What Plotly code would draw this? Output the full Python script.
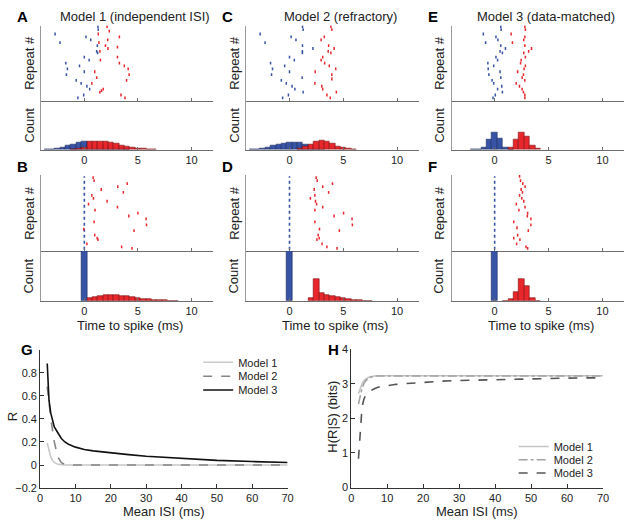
import plotly.graph_objects as go

# ---------------- data ----------------
# Raster spikes: time to spike (ms) and repeat index
A_blue_t = [1.27, 1.3, -2.73, 0.15, 0.6, -2.27, 1.21, 1.15, 1.24, 0.0, 0.45, -1.73, -0.45, -1.58, 0.0, -1.67, -0.76, -0.3, 0.24, 0.5, -0.06, -0.6]
A_blue_r = [50, 48, 45, 43, 41, 39, 37, 33, 32, 29, 27, 25, 23, 21, 19, 17, 13, 11, 9, 7, 3, 1]
A_red_t = [2.12, 2.33, 1.3, 3.27, 2.18, 1.36, 1.97, 2.2, 3.09, 1.45, 3.09, 1.5, 3.27, 3.73, 4.09, 0.97, 4.18, 1.15, 3.94, 0.7, 1.76, 1.6, 1.45, 3.42, 3.79]
A_red_r = [50, 47, 45, 43, 41, 39, 37, 35, 36, 33, 29, 27, 25, 23, 21, 19, 17, 15, 13, 11, 7, 6, 5, 3, 1]

C_blue_t = [1.21, 1.27, -2.73, 0.15, 0.6, -2.27, 1.21, 2.18, 1.2, 1.2, 0.0, 0.45, -1.76, -0.45, -1.58, 0.0, -1.67, 1.18, -0.76, -0.3, 0.24, 0.5, 1.27, -0.1, -0.64]
C_blue_r = [50, 48, 45, 43, 41, 39, 37, 35, 33, 32, 29, 27, 25, 23, 21, 19, 17, 15, 13, 11, 9, 7, 5, 3, 1]
C_red_t = [3.85, 3.94, 3.24, 2.94, 3.64, 4.15, 3.6, 3.85, 3.09, 2.94, 3.27, 3.7, 4.3, 2.39, 3.94, 3.94, 2.36, 3.0, 3.09, 4.36, 3.48, 3.79]
C_red_r = [50, 48, 43, 41, 37, 35, 33, 32, 29, 27, 25, 23, 21, 19, 17, 14, 11, 9, 7, 5, 3, 1]

E_blue_t = [0.57, 0.6, -1.05, 0.12, 0.3, -0.84, 0.57, 1.0, 0.5, 0.72, 0.12, 0.27, -0.63, -0.09, -0.6, 0.5, -0.54, 0.57, -0.24, -0.09, 0.66, 0.27, 0.72, 0.06, -0.15]
E_blue_r = [50, 48, 45, 43, 41, 39, 37, 35, 33, 32, 29, 27, 25, 23, 21, 19, 17, 15, 13, 11, 9, 7, 5, 3, 1]
E_red_t = [2.8, 2.85, 1.53, 2.8, 2.7, 1.65, 2.8, 3.42, 3.15, 2.7, 2.85, 2.46, 2.4, 2.85, 2.73, 2.13, 2.67, 2.55, 2.8, 2.0, 2.3, 2.55, 2.67, 2.8, 2.8]
E_red_r = [50, 48, 45, 43, 41, 39, 37, 35, 33, 32, 29, 27, 25, 23, 21, 19, 17, 15, 13, 11, 9, 7, 5, 3, 1]

# bottom row: the blue neuron always spikes at time 0 on every repeat
ALL_REPEATS = list(range(0, 51))
REF_blue_t = [0.0] * len(ALL_REPEATS)

B_red_t = [0.82, 0.91, 4.0, 3.12, 1.58, 3.64, 0.7, 0.85, 2.12, 0.39, 3.09, 1.0, 5.0, 4.15, 5.76, 0.91, 5.8, -0.06, 4.64, 0.97, 1.2, 1.27, 0.24, 3.48, 4.45]
B_red_r = [49, 47, 45, 43, 41, 39, 37, 35, 33, 31, 29, 27, 25, 23, 21, 19, 17, 14, 13, 10, 8, 7, 4, 2, 1]
D_red_t = [2.48, 2.58, 4.0, 3.09, 2.3, 3.64, 2.36, 1.94, 2.42, 2.52, 3.09, 2.36, 5.03, 4.15, 5.82, 2.36, 5.85, 2.79, 4.64, 2.67, 2.76, 2.55, 3.03, 3.48, 4.42]
D_red_r = [49, 47, 45, 43, 41, 39, 37, 35, 33, 31, 29, 27, 25, 23, 21, 19, 17, 14, 13, 10, 8, 7, 4, 2, 1]
F_red_t = [2.31, 2.4, 2.61, 2.82, 2.46, 2.58, 2.31, 2.52, 2.7, 2.01, 2.82, 2.25, 3.06, 3.03, 3.36, 1.77, 3.36, 2.07, 3.12, 2.13, 1.77, 2.34, 2.04, 2.91, 3.06]
F_red_r = [50, 47, 45, 43, 41, 39, 37, 35, 33, 31, 29, 27, 25, 23, 21, 19, 17, 15, 13, 10, 8, 7, 4, 2, 1]

# Histograms: bin centres (ms) and normalised counts
A_hb_t = [-3.5, -3.0, -2.5, -2.0, -1.5, -1.0, -0.5, 0.0, 0.5, 1.0, 1.5, 2.0, 2.5, 3.0, 3.5, 4.0]
A_hb_c = [0.005, 0.012, 0.025, 0.05, 0.075, 0.1, 0.14, 0.16, 0.155, 0.14, 0.11, 0.08, 0.05, 0.03, 0.015, 0.006]
A_hr_t = [-1.0, -0.5, 0.0, 0.5, 1.0, 1.5, 2.0, 2.5, 3.0, 3.5, 4.0, 4.5, 5.0, 5.5, 6.0, 6.5]
A_hr_c = [0.005, 0.02, 0.05, 0.16, 0.165, 0.165, 0.16, 0.14, 0.12, 0.09, 0.07, 0.05, 0.03, 0.015, 0.006, 0.002]

C_hb_t = [-3.5, -3.0, -2.5, -2.0, -1.5, -1.0, -0.5, 0.0, 0.5, 1.0, 1.5, 2.0, 2.5, 3.0]
C_hb_c = [0.004, 0.01, 0.025, 0.045, 0.075, 0.1, 0.135, 0.15, 0.155, 0.14, 0.11, 0.075, 0.04, 0.015]
C_hr_t = [1.0, 1.5, 2.0, 2.5, 3.0, 3.5, 4.0, 4.5, 5.0, 5.5, 6.0]
C_hr_c = [0.03, 0.07, 0.11, 0.16, 0.19, 0.17, 0.12, 0.07, 0.04, 0.018, 0.006]

E_hb_t = [-2.0, -1.5, -1.0, -0.5, 0.0, 0.5, 1.0, 1.5]
E_hb_c = [0.004, 0.013, 0.047, 0.21, 0.35, 0.23, 0.053, 0.005]
E_hr_t = [1.5, 2.0, 2.5, 3.0, 3.5, 4.0]
E_hr_c = [0.053, 0.21, 0.35, 0.27, 0.087, 0.02]

REF_hb_t = [0.0]
REF_hb_c = [1.0]
B_hr_t = [0.5, 1.0, 1.5, 2.0, 2.5, 3.0, 3.5, 4.0, 4.5, 5.0, 5.5, 6.0, 6.5, 7.0, 7.5, 8.0, 8.5]
B_hr_c = [0.065, 0.085, 0.1, 0.11, 0.113, 0.11, 0.1, 0.09, 0.075, 0.06, 0.045, 0.033, 0.022, 0.014, 0.008, 0.004, 0.002]
D_hr_t = [2.0, 2.5, 3.0, 3.5, 4.0, 4.5, 5.0, 5.5, 6.0, 6.5, 7.0, 7.5]
D_hr_c = [0.053, 0.43, 0.153, 0.113, 0.1, 0.08, 0.053, 0.04, 0.027, 0.013, 0.006, 0.003]
F_hr_t = [1.0, 1.5, 2.0, 2.5, 3.0, 3.5, 4.0]
F_hr_c = [0.005, 0.033, 0.18, 0.43, 0.3, 0.053, 0.005]

# Panels G and H
mean_isi = [2, 2.5, 3, 3.5, 4, 5, 6, 7, 8, 10, 12.5, 15, 20, 25, 30, 40, 50, 60, 70]
R_model1 = [0.19, 0.12, 0.07, 0.04, 0.022, 0.006, 0.001, 0, 0, 0, 0, 0, 0, 0, 0, 0, 0, 0, 0]
R_model2 = [0.68, 0.52, 0.41, 0.3, 0.2, 0.07, 0.02, 0.005, 0, 0, 0, 0, 0, 0, 0, 0, 0, 0, 0]
R_model3 = [0.88, 0.56, 0.45, 0.38, 0.33, 0.28, 0.23, 0.2, 0.18, 0.155, 0.135, 0.123, 0.104, 0.09, 0.076, 0.056, 0.04, 0.03, 0.022]
H_model1 = [2.71, 2.88, 3.0, 3.08, 3.13, 3.19, 3.22, 3.23, 3.23, 3.23, 3.23, 3.23, 3.23, 3.23, 3.23, 3.23, 3.23, 3.23, 3.23]
H_model2 = [2.41, 2.68, 2.87, 3.0, 3.08, 3.17, 3.21, 3.22, 3.22, 3.22, 3.22, 3.22, 3.22, 3.22, 3.22, 3.22, 3.22, 3.22, 3.22]
H_model3 = [0.83, 1.77, 2.33, 2.55, 2.66, 2.78, 2.84, 2.88, 2.91, 2.95, 2.98, 3.0, 3.04, 3.07, 3.09, 3.12, 3.14, 3.16, 3.17]

# ---------------- figure ----------------
W, HGT = 633, 528
FONT = "Liberation Sans, Arial, Helvetica, sans-serif"
BLUE, BLUE_EDGE = "#3753a6", "#1b2a5c"
RED, RED_EDGE = "#e8262b", "#7a1214"


def dx(a, b):
    return [a / W, b / W]


def dy(top, bot):
    return [1 - bot / HGT, 1 - top / HGT]


fig = go.Figure()
layout = dict(
    width=W, height=HGT, margin=dict(l=0, r=0, t=0, b=0),
    paper_bgcolor="white", plot_bgcolor="white",
    font=dict(family=FONT, size=11, color="#222"),
    showlegend=True, barmode="overlay", bargap=0,
)
annotations = []

cols = [(39, 213), (247, 421.5), (455, 630)]
rows = [(20, 96.7, 147), (173, 250.7, 301.7)]

panels = [
    dict(L="A", col=0, row=0, title="Model 1 (independent ISI)",
         bt=A_blue_t, br=A_blue_r, rt=A_red_t, rr=A_red_r, hbt=A_hb_t, hbc=A_hb_c, hrt=A_hr_t, hrc=A_hr_c, line=False),
    dict(L="C", col=1, row=0, title="Model 2 (refractory)",
         bt=C_blue_t, br=C_blue_r, rt=C_red_t, rr=C_red_r, hbt=C_hb_t, hbc=C_hb_c, hrt=C_hr_t, hrc=C_hr_c, line=False),
    dict(L="E", col=2, row=0, title="Model 3 (data-matched)",
         bt=E_blue_t, br=E_blue_r, rt=E_red_t, rr=E_red_r, hbt=E_hb_t, hbc=E_hb_c, hrt=E_hr_t, hrc=E_hr_c, line=False),
    dict(L="B", col=0, row=1, title=None,
         bt=REF_blue_t, br=ALL_REPEATS, rt=B_red_t, rr=B_red_r, hbt=REF_hb_t, hbc=REF_hb_c, hrt=B_hr_t, hrc=B_hr_c, line=True),
    dict(L="D", col=1, row=1, title=None,
         bt=REF_blue_t, br=ALL_REPEATS, rt=D_red_t, rr=D_red_r, hbt=REF_hb_t, hbc=REF_hb_c, hrt=D_hr_t, hrc=D_hr_c, line=True),
    dict(L="F", col=2, row=1, title=None,
         bt=REF_blue_t, br=ALL_REPEATS, rt=F_red_t, rr=F_red_r, hbt=REF_hb_t, hbc=REF_hb_c, hrt=F_hr_t, hrc=F_hr_c, line=True),
]

k = 1
for p in panels:
    x0, x1 = cols[p["col"]]
    ytop, ymid, ybot = rows[p["row"]]
    ka, kb = k, k + 1
    k += 2
    xa, ya = f"x{ka}", f"y{ka}"
    xb, yb = f"x{kb}", f"y{kb}"
    # raster axes
    layout[f"xaxis{ka}"] = dict(domain=dx(x0, x1), anchor=ya, range=[-4, 12], showline=True,
                                linecolor="#6e6e6e", linewidth=1, ticks="inside", ticklen=3,
                                tickcolor="#6e6e6e", tickvals=[0, 5, 10], showticklabels=False,
                                showgrid=False, zeroline=False)
    layout[f"yaxis{ka}"] = dict(domain=dy(ytop, ymid), anchor=xa, range=[-0.8, 50.8], showline=True,
                                linecolor="#9a9a9a", linewidth=1, ticks="", showticklabels=False,
                                showgrid=False, zeroline=False)
    # histogram axes
    layout[f"xaxis{kb}"] = dict(domain=dx(x0, x1), anchor=yb, range=[-4, 12], showline=True,
                                linecolor="#6e6e6e", linewidth=1, ticks="inside", ticklen=3,
                                tickcolor="#6e6e6e", tickvals=[0, 5, 10], ticktext=["0", "5", "10"],
                                tickfont=dict(size=11, color="#222"),
                                showgrid=False, zeroline=False)
    layout[f"yaxis{kb}"] = dict(domain=dy(ymid, ybot), anchor=xb, range=[0, 1.0], showline=True,
                                linecolor="#9a9a9a", linewidth=1, ticks="", showticklabels=False,
                                showgrid=False, zeroline=False)

    # raster
    if p["line"]:
        fig.add_trace(go.Scatter(x=p["bt"], y=p["br"], mode="lines", xaxis=xa, yaxis=ya,
                                 line=dict(color=BLUE, width=1.6, dash="dot"),
                                 showlegend=False, hoverinfo="skip"))
    else:
        fig.add_trace(go.Scatter(x=p["bt"], y=p["br"], mode="markers", xaxis=xa, yaxis=ya,
                                 marker=dict(symbol="line-ns", size=2, line=dict(color=BLUE, width=1.5)),
                                 showlegend=False, hoverinfo="skip"))
    fig.add_trace(go.Scatter(x=p["rt"], y=p["rr"], mode="markers", xaxis=xa, yaxis=ya,
                             marker=dict(symbol="line-ns", size=2, line=dict(color=RED, width=1.5)),
                             showlegend=False, hoverinfo="skip"))
    # histograms
    fig.add_trace(go.Bar(x=p["hbt"], y=p["hbc"], width=0.5, xaxis=xb, yaxis=yb,
                         marker=dict(color=BLUE, line=dict(color=BLUE_EDGE, width=0.6)),
                         showlegend=False, hoverinfo="skip"))
    fig.add_trace(go.Bar(x=p["hrt"], y=p["hrc"], width=0.5, xaxis=xb, yaxis=yb,
                         marker=dict(color=RED, line=dict(color=RED_EDGE, width=0.6)),
                         showlegend=False, hoverinfo="skip"))

    # text
    annotations.append(dict(text=f"<b>{p['L']}</b>", x=(x0 - 19) / W, y=1 - (ytop - 9) / HGT,
                            xref="paper", yref="paper", showarrow=False, xanchor="center", yanchor="middle",
                            font=dict(size=15, color="#000")))
    if p["title"]:
        annotations.append(dict(text=p["title"], x=((x0 + x1) / 2 + 8) / W, y=1 - (ytop - 9) / HGT,
                                xref="paper", yref="paper", showarrow=False, xanchor="center", yanchor="middle",
                                font=dict(size=13, color="#222")))
    annotations.append(dict(text="Repeat #", x=(x0 - 13) / W, y=1 - ((ytop + ymid) / 2) / HGT, textangle=-90,
                            xref="paper", yref="paper", showarrow=False, xanchor="center", yanchor="middle",
                            font=dict(size=13, color="#222")))
    annotations.append(dict(text="Count", x=(x0 - 13) / W, y=1 - ((ymid + ybot) / 2) / HGT, textangle=-90,
                            xref="paper", yref="paper", showarrow=False, xanchor="center", yanchor="middle",
                            font=dict(size=13, color="#222")))
    if p["row"] == 1:
        annotations.append(dict(text="Time to spike (ms)", x=((x0 + x1) / 2 + 3) / W, y=1 - 327 / HGT,
                                xref="paper", yref="paper", showarrow=False, xanchor="center", yanchor="middle",
                                font=dict(size=13, color="#222")))

# Panel G / H axes
kg, kh = k, k + 1
common_line = dict(showline=True, linecolor="#333", linewidth=1, ticks="inside", ticklen=4,
                   tickcolor="#333", showgrid=False, zeroline=False, tickfont=dict(size=11, color="#222"))
layout[f"xaxis{kg}"] = dict(domain=dx(37.7, 288.7), anchor=f"y{kg}", range=[0, 70],
                            tickvals=[0, 10, 20, 30, 40, 50, 60, 70], **common_line)
layout[f"yaxis{kg}"] = dict(domain=dy(351.7, 493.3), anchor=f"x{kg}", range=[-0.2, 1.0],
                            tickvals=[-0.2, 0, 0.2, 0.4, 0.6, 0.8],
                            ticktext=["\u22120.2", "0", "0.2", "0.4", "0.6", "0.8"], **common_line)
layout[f"xaxis{kh}"] = dict(domain=dx(353.3, 608.7), anchor=f"y{kh}", range=[0, 70],
                            tickvals=[0, 10, 20, 30, 40, 50, 60, 70], **common_line)
layout[f"yaxis{kh}"] = dict(domain=dy(351, 492.7), anchor=f"x{kh}", range=[0, 4],
                            tickvals=[0, 1, 2, 3, 4], **common_line)

# each series gets its own one-item legend so the entries can sit as tightly as in the original
g_styles = [("Model 1", R_model1, "#c8c8c8", "solid", 364.5),
            ("Model 2", R_model2, "#858585", "dash", 378.8),
            ("Model 3", R_model3, "#111111", "solid", 393)]
h_styles = [("Model 1", H_model1, "#c4c4c4", "solid", 450.7),
            ("Model 2", H_model2, "#a2a2a2", "dashdot", 464.3),
            ("Model 3", H_model3, "#555555", "dash", 477.8)]
li = 1
for (styles, kk, lx) in ((g_styles, kg, 198), (h_styles, kh, 518)):
    for name, ys, col, dash, ly in styles:
        lname = "legend" if li == 1 else f"legend{li}"
        fig.add_trace(go.Scatter(x=mean_isi, y=ys, mode="lines", name=name, xaxis=f"x{kk}", yaxis=f"y{kk}",
                                 line=dict(color=col, width=1.6, dash=dash), legend=lname))
        layout[lname] = dict(x=lx / W, y=1 - ly / HGT, xanchor="left", yanchor="middle",
                             bgcolor="rgba(0,0,0,0)", borderwidth=0, font=dict(size=11, color="#222"),
                             itemwidth=30, tracegroupgap=0)
        li += 1

annotations += [
    dict(text="<b>G</b>", x=24 / W, y=1 - 351 / HGT, xref="paper", yref="paper", showarrow=False,
         xanchor="center", yanchor="middle", font=dict(size=15, color="#000")),
    dict(text="<b>H</b>", x=335 / W, y=1 - 351 / HGT, xref="paper", yref="paper", showarrow=False,
         xanchor="center", yanchor="middle", font=dict(size=15, color="#000")),
    dict(text="R", x=10 / W, y=1 - 420 / HGT, textangle=-90, xref="paper", yref="paper", showarrow=False,
         xanchor="center", yanchor="middle", font=dict(size=13, color="#222")),
    dict(text="H(R|S) (bits)", x=334 / W, y=1 - 420 / HGT, textangle=-90, xref="paper", yref="paper",
         showarrow=False, xanchor="center", yanchor="middle", font=dict(size=13, color="#222")),
    dict(text="Mean ISI (ms)", x=163 / W, y=1 - 517 / HGT, xref="paper", yref="paper", showarrow=False,
         xanchor="center", yanchor="middle", font=dict(size=13, color="#222")),
    dict(text="Mean ISI (ms)", x=481 / W, y=1 - 517 / HGT, xref="paper", yref="paper", showarrow=False,
         xanchor="center", yanchor="middle", font=dict(size=13, color="#222")),
]
layout["annotations"] = annotations
fig.update_layout(**layout)
fig.write_html("out.html", config={"displayModeBar": False},
               post_script="document.body.style.margin='0';")
